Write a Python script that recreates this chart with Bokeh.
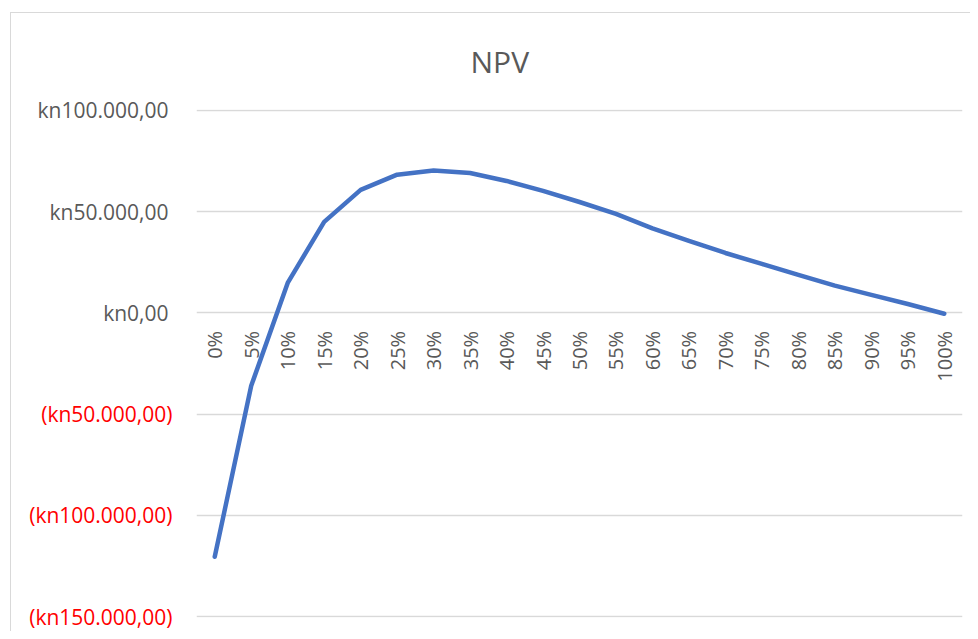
from math import pi
from bokeh.plotting import figure
from bokeh.layouts import row
from bokeh.models import FactorRange, Range1d, FixedTicker, ColumnDataSource, Grid
from bokeh.core.properties import value
from bokeh.embed import file_html
from bokeh.resources import INLINE

# ---- data ----
rates = ["0%", "5%", "10%", "15%", "20%", "25%", "30%", "35%", "40%", "45%", "50%",
         "55%", "60%", "65%", "70%", "75%", "80%", "85%", "90%", "95%", "100%"]
npv = [-120500, -36000, 14800, 45000, 60800, 68300, 70400, 69100, 65200, 60300, 54800,
       48900, 41800, 35600, 29600, 24200, 18800, 13500, 8900, 4400, -400]
y_ticks = [-150000, -100000, -50000, 0, 50000, 100000]
y_tick_labels = ["(kn150.000,00)", "(kn100.000,00)", "(kn50.000,00)",
                 "kn0,00", "kn50.000,00", "kn100.000,00"]

FONT = "Open Sans"
GREY = "#595959"
RED = "#FF0000"
GRID = "#d9d9d9"

PAD = 494  # about one pixel of headroom so the outer gridlines are drawn
Y0, Y1 = y_ticks[0] - PAD, y_ticks[-1] + PAD
TOP, BOTTOM, H = 96, 14, 618
UPP = (Y1 - Y0) / (H - TOP - BOTTOM)  # data units per pixel

# ---- left figure: value-axis labels (positives grey, negatives red) ----
# full-height frame with the same vertical scale as the main plot
lab = figure(width=185, height=H, output_backend="svg", toolbar_location=None,
             x_range=Range1d(0, 1),
             y_range=Range1d(Y0 - BOTTOM * UPP, Y1 + TOP * UPP),
             x_axis_location=None, y_axis_location=None,
             min_border_left=0, min_border_right=0,
             min_border_top=0, min_border_bottom=0)
lab.frame_align = False
lab.outline_line_color = None
lab.grid.visible = False
lab.border_fill_color = "white"
lab.background_fill_color = "white"

pos_src = ColumnDataSource(dict(x=[1] * 3, y=[t for t in y_ticks if t >= 0],
                                text=[l for t, l in zip(y_ticks, y_tick_labels) if t >= 0]))
neg_src = ColumnDataSource(dict(x=[1] * 3, y=[t for t in y_ticks if t < 0],
                                text=[l for t, l in zip(y_ticks, y_tick_labels) if t < 0]))
lab.text(x="x", y="y", text="text", source=pos_src, x_offset=-28,
         text_align="right", text_baseline="middle",
         text_font=value(FONT), text_font_size="21px", text_color=GREY)
lab.text(x="x", y="y", text="text", source=neg_src, x_offset=-24,
         text_align="right", text_baseline="middle",
         text_font=value(FONT), text_font_size="21px", text_color=RED)

# ---- main figure ----
p = figure(width=774, height=H, output_backend="svg", toolbar_location=None,
           x_range=FactorRange(*rates, range_padding=0), y_range=Range1d(Y0, Y1),
           x_axis_location=None, y_axis_location=None,
           min_border_left=0, min_border_right=8,
           min_border_top=TOP, min_border_bottom=BOTTOM)
p.frame_align = False
p.outline_line_color = None
p.background_fill_color = "white"
p.border_fill_color = "white"
p.grid.visible = False

p.title.text = "NPV"
p.title.align = "left"
p.title.offset = 274
p.title.vertical_align = "top"
p.title.standoff = 52
p.title.text_font = FONT
p.title.text_font_size = "30px"
p.title.text_font_style = "normal"
p.title.text_color = GREY

p.add_layout(Grid(dimension=1, ticker=FixedTicker(ticks=y_ticks),
                  grid_line_color=GRID, grid_line_width=1.3))

# category labels at y = 0 (horizontal axis crosses at zero)
cat_src = ColumnDataSource(dict(x=rates, y=[0] * len(rates), text=rates))
p.text(x="x", y="y", text="text", source=cat_src, angle=pi / 2,
       text_align="right", text_baseline="middle", y_offset=18,
       text_font=value(FONT), text_font_size="20px", text_color=GREY)

p.line(rates, npv, line_color="#4472C4", line_width=4.5,
       line_cap="round", line_join="round")

layout = row(lab, p, spacing=0,
             styles={"margin-left": "10px", "margin-top": "12px",
                     "border-left": "1px solid #d9d9d9",
                     "border-top": "1px solid #d9d9d9"})

open("out.html", "w").write(file_html(layout, INLINE))
